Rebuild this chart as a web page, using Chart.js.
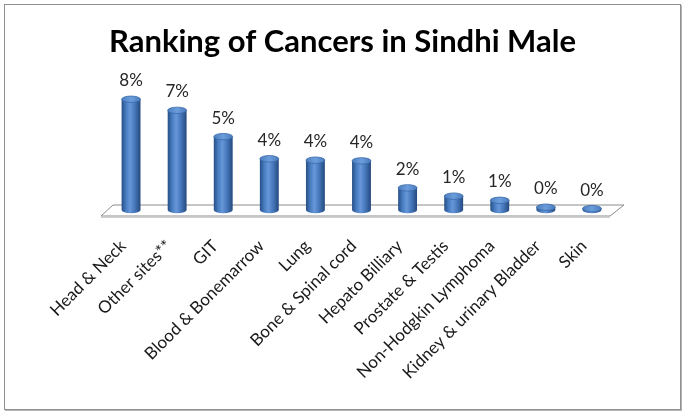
<!DOCTYPE html>
<html>
<head>
<meta charset="utf-8">
<script src="https://cdn.jsdelivr.net/npm/chart.js@4/dist/chart.umd.min.js"></script>
<style>
  html, body { margin: 0; padding: 0; background: #fff; }
  #wrap { position: relative; width: 685px; height: 412px; }
  #frame { position: absolute; left: 4px; top: 4px; width: 675px; height: 404px;
           border: 1px solid #8f8f8f; box-shadow: 1px 1px 0 #b5b5b5; pointer-events: none; }
</style>
</head>
<body>
<div id="wrap">
  <canvas id="c" width="685" height="412"></canvas>
  <div id="frame"></div>
</div>
<script>
const categories = ["Head & Neck", "Other sites**", "GIT", "Blood & Bonemarrow", "Lung",
  "Bone & Spinal cord", "Hepato Billiary", "Prostate & Testis", "Non-Hodgkin Lymphoma",
  "Kidney & urinary Bladder", "Skin"];
const values = [8.0, 7.2, 5.3, 3.7, 3.6, 3.55, 1.6, 1.0, 0.7, 0.2, 0.1];
const valueLabels = values.map(v => Math.round(v) + "%");
const titleText = "Ranking of Cancers in Sindhi Male";

const floorPlugin = {
  id: "floor",
  beforeDatasetsDraw(chart) {
    const ctx = chart.ctx, a = chart.chartArea;
    const base = chart.scales.y.getPixelForValue(0);
    ctx.save();
    ctx.beginPath();
    ctx.moveTo(a.left - 7, base + 6);
    ctx.lineTo(a.left + 5, base - 5);
    ctx.lineTo(a.right + 9, base - 5);
    ctx.lineTo(a.right - 5, base + 6);
    ctx.closePath();
    ctx.fillStyle = "#ffffff";
    ctx.fill();
    ctx.strokeStyle = "#8c8c8c";
    ctx.lineWidth = 1;
    ctx.stroke();
    ctx.beginPath();
    ctx.moveTo(a.left - 7, base + 7.5);
    ctx.lineTo(a.right - 5, base + 7.5);
    ctx.strokeStyle = "#d0d0d0";
    ctx.stroke();
    ctx.restore();
  }
};

const cylinderPlugin = {
  id: "cylinders",
  afterDatasetsDraw(chart) {
    const ctx = chart.ctx;
    const meta = chart.getDatasetMeta(0);
    ctx.save();
    meta.data.forEach((el, i) => {
      const p = el.getProps(["x", "y", "base", "width"], true);
      const rx = p.width / 2, ry = 3.2;
      const x = p.x, top = p.y, base = p.base;
      const g = ctx.createLinearGradient(x - rx, 0, x + rx, 0);
      g.addColorStop(0, "#274f86");
      g.addColorStop(0.25, "#4a7fc4");
      g.addColorStop(0.45, "#6797d8");
      g.addColorStop(0.7, "#4677bb");
      g.addColorStop(1, "#24497d");
      ctx.beginPath();
      ctx.moveTo(x - rx, top);
      ctx.lineTo(x - rx, base);
      ctx.ellipse(x, base, rx, ry, 0, Math.PI, 0, true);
      ctx.lineTo(x + rx, top);
      ctx.closePath();
      ctx.fillStyle = g;
      ctx.fill();
      ctx.beginPath();
      ctx.ellipse(x, top, rx, ry, 0, 0, Math.PI * 2);
      const g2 = ctx.createLinearGradient(x - rx, 0, x + rx, 0);
      g2.addColorStop(0, "#4d7fc0");
      g2.addColorStop(0.5, "#6b9ddc");
      g2.addColorStop(1, "#4a7cbd");
      ctx.fillStyle = g2;
      ctx.fill();
      ctx.strokeStyle = "#3a68a8";
      ctx.lineWidth = 0.8;
      ctx.stroke();
      ctx.fillStyle = "#262626";
      ctx.font = "17px Lato, 'Open Sans', sans-serif";
      ctx.textAlign = "center";
      ctx.textBaseline = "bottom";
      ctx.fillText(valueLabels[i], x, top - 10);
    });
    ctx.restore();
  }
};

new Chart(document.getElementById("c"), {
  type: "bar",
  data: {
    labels: categories,
    datasets: [{
      data: values,
      backgroundColor: "rgba(0,0,0,0)",
      borderWidth: 0,
      categoryPercentage: 1.0,
      barPercentage: 0.41
    }]
  },
  options: {
    responsive: false,
    animation: false,
    events: [],
    layout: { padding: { left: 4, right: 4, top: 4, bottom: 12 } },
    plugins: {
      legend: { display: false },
      tooltip: { enabled: false },
      title: {
        display: true,
        text: titleText,
        color: "#000000",
        font: { family: "Lato, 'Open Sans', sans-serif", size: 31, weight: "bold" },
        padding: { top: 19, bottom: 10 }
      }
    },
    scales: {
      x: {
        offset: true,
        grid: { display: false, drawTicks: false },
        border: { display: false },
        ticks: {
          color: "#1a1a1a",
          font: { family: "Lato, 'Open Sans', sans-serif", size: 17 },
          minRotation: 45,
          maxRotation: 45,
          autoSkip: false,
          padding: 26,
          labelOffset: -8
        },
        afterFit(scale) { scale.height = 190; }
      },
      y: {
        display: true,
        position: "left",
        min: 0,
        max: 10.1,
        grid: { display: false, drawTicks: false },
        border: { display: false },
        ticks: { display: false },
        afterFit(scale) { scale.width = 104; }
      },
      y2: {
        display: true,
        position: "right",
        min: 0,
        max: 10.1,
        grid: { display: false, drawTicks: false },
        border: { display: false },
        ticks: { display: false },
        afterFit(scale) { scale.width = 66; }
      }
    }
  },
  plugins: [floorPlugin, cylinderPlugin]
});
</script>
</body>
</html>
